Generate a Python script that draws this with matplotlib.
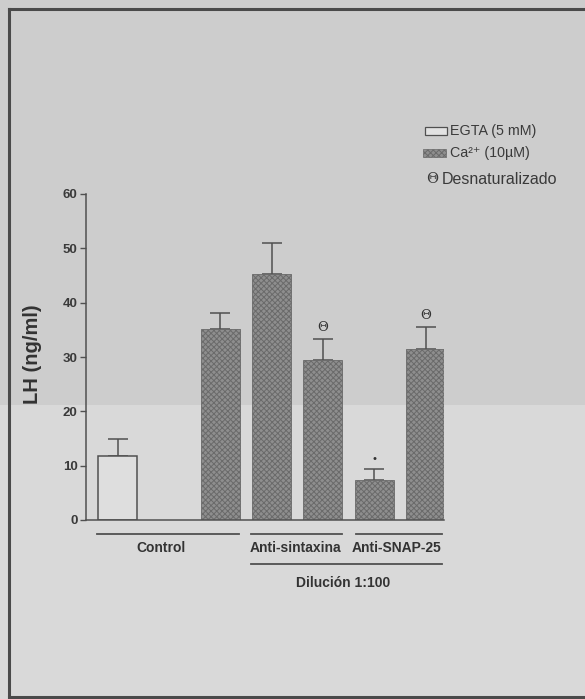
import matplotlib
matplotlib.use("Agg")
import matplotlib.pyplot as plt
from matplotlib.patches import Rectangle
from matplotlib.lines import Line2D
import numpy as np

plt.rcParams['font.family'] = ['Liberation Sans', 'DejaVu Sans']

# ---- data ----
egta_labels = ["Control"]
egta_values = [11.8]
egta_err = [3.2]

ca_labels = ["Control", "Anti-sintaxina", "Anti-sintaxina Θ", "Anti-SNAP-25 *", "Anti-SNAP-25 Θ"]
ca_values = [35.2, 45.3, 29.4, 7.3, 31.5]
ca_err = [2.9, 5.7, 3.9, 2.0, 4.0]
ca_marks = ["", "", "Θ", "•", "Θ"]

group_labels = ["Control", "Anti-sintaxina", "Anti-SNAP-25"]
dilution_label = "Dilución 1:100"
y_ticks = [0, 10, 20, 30, 40, 50, 60]
y_label = "LH (ng/ml)"
legend_labels = ["EGTA (5 mM)", "Ca²⁺ (10µM)", "Desnaturalizado"]

W, H = 585, 699
fig = plt.figure(figsize=(W / 100, H / 100), dpi=100)
fig.patch.set_facecolor('#cdcdcd')
# lighter lower part of scanned page
fig.add_artist(Rectangle((0, 0), 1, 1 - 405 / H, transform=fig.transFigure,
                         facecolor='#d9d9d9', edgecolor='none', zorder=-5))

def fx(px):
    return px / W

def fy(py):
    return 1 - py / H

# frame
border = '#4a4a4a'
fig.add_artist(Line2D([fx(9), fx(9)], [fy(9), fy(697)], color=border, lw=2.2))
fig.add_artist(Line2D([fx(9), 1], [fy(9), fy(9)], color=border, lw=2.2))
fig.add_artist(Line2D([fx(9), 1], [fy(697), fy(697)], color=border, lw=2.2))

ax = fig.add_axes([fx(86), fy(520), fx(444) - fx(86), fy(194) - fy(520)])
ax.set_facecolor('none')

axc = '#505050'
txt = '#333333'
bw = 0.76
egta_pos = np.array([0.0])
ca_pos = np.array([2.0, 3.0, 4.0, 5.0, 6.0])

plt.rcParams['hatch.color'] = '#4a4a4a'
plt.rcParams['hatch.linewidth'] = 0.7

ax.bar(egta_pos, egta_values, width=bw, facecolor='#dedede', edgecolor=axc, lw=1.1, zorder=2)
ax.errorbar(egta_pos, egta_values, yerr=[np.zeros(len(egta_err)), egta_err], fmt='none',
            ecolor=axc, elinewidth=1.1, capsize=7.5, capthick=1.1, zorder=1)

ax.bar(ca_pos, ca_values, width=bw, facecolor='#8e8e8e', edgecolor='#6a6a6a', lw=0.6,
       hatch='xxxxxx', zorder=2)
ax.errorbar(ca_pos, ca_values, yerr=[np.zeros(len(ca_err)), ca_err], fmt='none',
            ecolor=axc, elinewidth=1.1, capsize=7.5, capthick=1.1, zorder=1)

for p, v, e, m in zip(ca_pos, ca_values, ca_err, ca_marks):
    if m == "Θ":
        ax.text(p, v + e + 0.9, m, ha='center', va='bottom', fontsize=9.5,
                family='DejaVu Serif', color=txt)
    elif m:
        ax.text(p, v + e + 1.0, m, ha='center', va='bottom', fontsize=8, color=txt)

ax.set_xlim(-0.614, 6.36)
ax.set_ylim(0, 60)
ax.set_yticks(y_ticks)
ax.set_yticklabels([str(t) for t in y_ticks], fontsize=9.5, fontweight='bold', color='#3a3a3a')
ax.set_xticks([])
for s in ['top', 'right']:
    ax.spines[s].set_visible(False)
for s in ['left', 'bottom']:
    ax.spines[s].set_color(axc)
    ax.spines[s].set_linewidth(1.1)
ax.tick_params(axis='y', length=4, width=1.0, color=axc, pad=2)
fig.text(fx(33), fy(354), y_label, rotation=90, ha='center', va='center',
         fontsize=14.5, fontweight='bold', color=txt)

# group lines below the axis
trans = ax.get_xaxis_transform()
ly = -(534 - 520) / (520 - 194)
ty = -(548 - 520) / (520 - 194)
dly = -(564 - 520) / (520 - 194)
dty = -(583 - 520) / (520 - 194)
spans = [(-0.40, 2.37), (2.60, 4.37), (4.65, 6.32)]
label_x = [0.85, 3.46, 5.44]
for (a, b), lab, lx in zip(spans, group_labels, label_x):
    ax.add_line(Line2D([a, b], [ly, ly], transform=trans, color=axc, lw=1.3, clip_on=False))
    ax.text(lx, ty, lab, transform=trans, ha='center', va='center', fontsize=10,
            fontweight='bold', color=txt)
ax.add_line(Line2D([2.60, 6.32], [dly, dly], transform=trans, color=axc, lw=1.3, clip_on=False))
ax.text(4.4, dty, dilution_label, transform=trans, ha='center', va='center', fontsize=10,
        fontweight='bold', color=txt)

# legend (manual)
fig.add_artist(Rectangle((fx(425), fy(135)), fx(447) - fx(425), fy(127) - fy(135),
                         transform=fig.transFigure, facecolor='#e2e2e2', edgecolor=axc, lw=0.9))
fig.add_artist(Rectangle((fx(423), fy(157)), fx(446) - fx(423), fy(149) - fy(157),
                         transform=fig.transFigure, facecolor='#8e8e8e', edgecolor='#6a6a6a',
                         lw=0.5, hatch='xxxxxx'))
fig.text(fx(450), fy(131), legend_labels[0], ha='left', va='center', fontsize=10.3, color='#3a3a3a')
fig.text(fx(450), fy(153), legend_labels[1], ha='left', va='center', fontsize=10.3, color='#3a3a3a')
fig.text(fx(432), fy(179), "Θ", ha='center', va='center', fontsize=10.5,
         family='DejaVu Serif', color='#3a3a3a')
fig.text(fx(442), fy(179), legend_labels[2], ha='left', va='center', fontsize=11.5, color='#3a3a3a')

fig.savefig("out.png", dpi=100, facecolor=fig.get_facecolor())
